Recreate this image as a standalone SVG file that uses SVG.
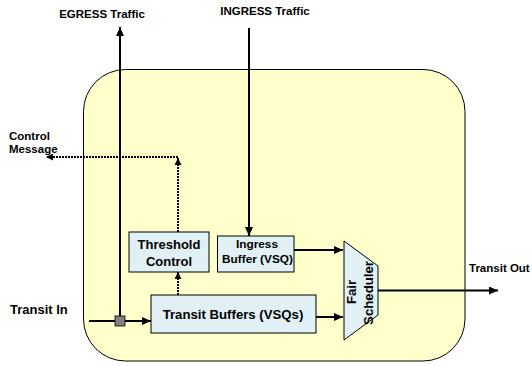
<svg xmlns="http://www.w3.org/2000/svg" width="532" height="366" viewBox="0 0 532 366">
<style>
text{font-family:"Liberation Sans",Arial,sans-serif;font-weight:bold;fill:#000}
.box{fill:#E0F0F4;stroke:#000;stroke-width:1}
.ln{fill:none;stroke:#000;stroke-width:2}
.dot{fill:none;stroke:#000;stroke-width:2;stroke-dasharray:2 1}
</style>
<defs>
<marker id="ah" markerUnits="userSpaceOnUse" markerWidth="9" markerHeight="8" refX="9" refY="4" orient="auto">
<path d="M0,0 L9,4 L0,8 z" fill="#000"/>
</marker>
<marker id="ahs" markerUnits="userSpaceOnUse" markerWidth="7" markerHeight="7" refX="7" refY="3.5" orient="auto">
<path d="M0,0 L7,3.5 L0,7 z" fill="#000"/>
</marker>
</defs>
<g id="container">
<rect x="83.5" y="69.5" width="381.5" height="291.5" rx="42" ry="42" fill="#FFFFCC" stroke="#000" stroke-width="1"/>
</g>
<g id="labels">
<text x="102" y="18" font-size="11.5" text-anchor="middle">EGRESS Traffic</text>
<text x="265" y="15" font-size="11.5" text-anchor="middle">INGRESS Traffic</text>
<text x="9" y="140" font-size="11.5">Control</text>
<text x="9" y="153" font-size="11.5">Message</text>
<text x="10" y="314" font-size="13">Transit In</text>
<text x="469" y="272" font-size="11.5">Transit Out</text>
</g>
<g id="connectors">
<line class="ln" x1="120" y1="317" x2="120" y2="27" marker-end="url(#ah)"/>
<line class="ln" x1="249" y1="28" x2="249" y2="236" marker-end="url(#ah)"/>
<line class="ln" x1="89" y1="321" x2="151" y2="321" marker-end="url(#ah)"/>
<line class="ln" x1="294" y1="250" x2="343" y2="250" marker-end="url(#ah)"/>
<line class="ln" x1="316" y1="317" x2="343" y2="317" marker-end="url(#ah)"/>
<line class="ln" x1="378" y1="290.5" x2="498" y2="290.5" marker-end="url(#ah)"/>
<line class="dot" x1="178" y1="295" x2="178" y2="272" marker-end="url(#ahs)"/>
<line class="dot" x1="178" y1="232" x2="178" y2="158" marker-end="url(#ahs)"/>
<line class="dot" x1="178" y1="157" x2="46" y2="157" marker-end="url(#ahs)"/>
</g>
<g id="junction">
<rect x="115" y="316" width="10" height="10" fill="#808080" stroke="#000" stroke-width="0.8"/>
</g>
<g id="threshold-control">
<rect class="box" x="129" y="232" width="80" height="40"/>
<text x="169" y="249" font-size="13" text-anchor="middle">Threshold</text>
<text x="169" y="266" font-size="13" text-anchor="middle">Control</text>
</g>
<g id="ingress-buffer">
<rect class="box" x="217.5" y="236" width="76.5" height="36"/>
<text x="257" y="248" font-size="11.8" text-anchor="middle">Ingress</text>
<text x="257.5" y="263" font-size="11.8" text-anchor="middle">Buffer (VSQ)</text>
</g>
<g id="transit-buffers">
<rect class="box" x="151" y="295" width="165" height="38"/>
<text x="233" y="319" font-size="13.2" text-anchor="middle">Transit Buffers (VSQs)</text>
</g>
<g id="fair-scheduler">
<polygon class="box" points="344,241 378,266 378,315 344,340"/>
<text transform="translate(355.5,292) rotate(-90)" font-size="13.2" text-anchor="middle">Fair</text>
<text transform="translate(372.5,293) rotate(-90)" font-size="13.2" text-anchor="middle">Scheduler</text>
</g>
</svg>
